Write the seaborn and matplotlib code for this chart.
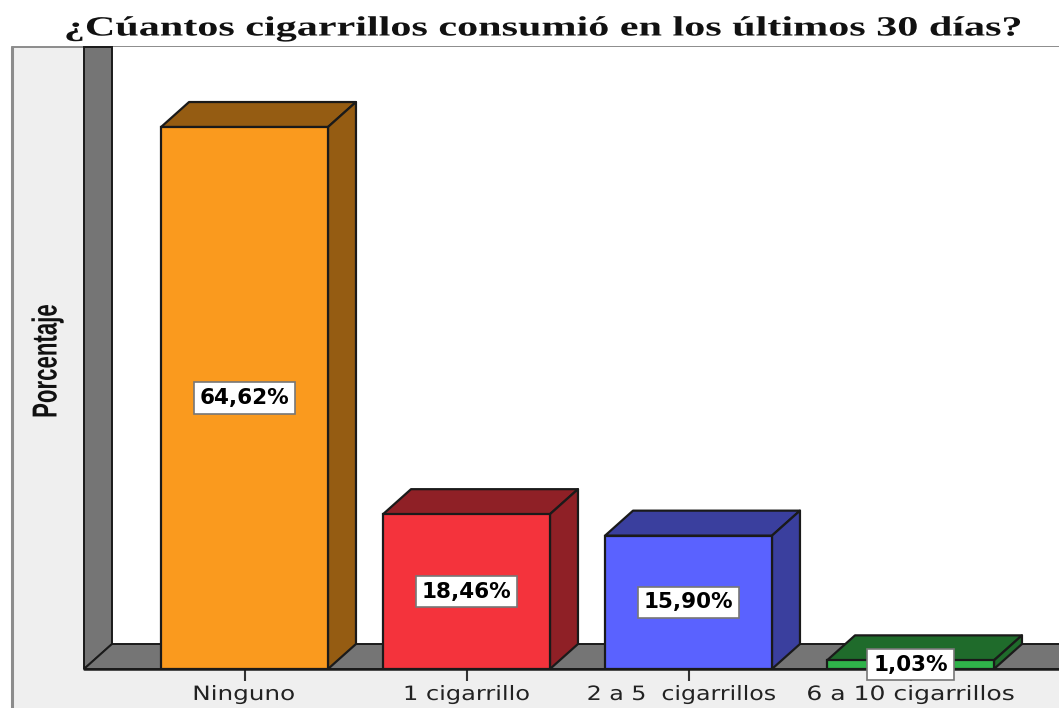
import matplotlib
matplotlib.use('Agg')
import matplotlib.pyplot as plt
from matplotlib.patches import Polygon, Rectangle
from matplotlib.patheffects import AbstractPathEffect
from matplotlib.transforms import Affine2D
import pandas as pd
import seaborn as sns

categories = ['Ninguno', '1 cigarrillo', '2 a 5  cigarrillos', '6 a 10 cigarrillos']
percentages = [64.62, 18.46, 15.90, 1.03]
value_labels = ['64,62%', '18,46%', '15,90%', '1,03%']
front_colors = ['#FA9A1E', '#F4333C', '#5A62FF', '#2FB34A']
side_colors = ['#955C12', '#8F2026', '#3A3F9E', '#1F6B2B']

W, H = 1059, 708
WALL = '#757575'
PANEL = '#EFEFEF'
EDGE = '#1a1a1a'


# the source image was stretched sideways, so the text needs it too
class Stretch(AbstractPathEffect):
    def __init__(self, sx, sy, cx, cy, shift=0):
        super().__init__()
        self.sx, self.sy, self.cx, self.cy, self.shift = sx, sy, cx, cy, shift

    def draw_path(self, renderer, gc, tpath, affine, rgbFace=None):
        t = Affine2D().translate(-self.cx, -self.cy).scale(self.sx, self.sy)
        t = t.translate(self.cx + self.shift, self.cy)
        renderer.draw_path(gc, tpath, affine + t, rgbFace)


sns.set_theme(style='white')
plt.rcParams['font.family'] = ['DejaVu Sans']

df = pd.DataFrame({'cat': categories, 'pct': percentages})

fig = plt.figure(figsize=(W / 100, H / 100), dpi=100, facecolor='white')

# grey panel behind the plot, open at the right side
fig.add_artist(Rectangle((12 / W, 0), (W - 12) / W, 1 - 47 / H, transform=fig.transFigure,
                         facecolor=PANEL, edgecolor='none', zorder=-5))
fig.add_artist(plt.Line2D([12 / W, 12 / W], [0, 1 - 47 / H], color='#8c8c8c', lw=2.2, zorder=-4))
fig.add_artist(plt.Line2D([12 / W, 1], [1 - 46.5 / H, 1 - 46.5 / H], color='#8c8c8c', lw=1.4, zorder=-4))

ax = fig.add_axes([84 / W, 1 - 669 / H, (W - 84) / W, (669 - 47) / H])
sns.barplot(data=df, x='cat', y='pct', hue='cat', palette=front_colors, legend=False,
            width=0.752, saturation=1, edgecolor=EDGE, linewidth=1.6, ax=ax, zorder=4)

# 222 px per category, 8.387 px per percent
xmin, xmax = (84 - 244.5) / 222, (W - 244.5) / 222
ymax = (669 - 47) / 8.387
ax.set_xlim(xmin, xmax)
ax.set_ylim(0, ymax)
dx, dy = 28 / 222, 25 / 8.387

# wall and floor of the 3D box
ax.add_patch(Polygon([(xmin, 0), (xmin + dx, dy), (xmin + dx, ymax), (xmin, ymax)],
                     facecolor=WALL, edgecolor=EDGE, lw=1.4, zorder=1, clip_on=False))
ax.add_patch(Polygon([(xmin, 0), (xmax + 1, 0), (xmax + 1, dy), (xmin + dx, dy)],
                     facecolor=WALL, edgecolor=EDGE, lw=1.4, zorder=2))
ax.plot([xmin, xmax], [0, 0], color=EDGE, lw=1.8, zorder=3, clip_on=False)

bars = [p for c in ax.containers for p in c]
for bar, side, label in zip(bars, side_colors, value_labels):
    x0 = bar.get_x()
    x1 = x0 + bar.get_width()
    top = bar.get_height()
    ax.add_patch(Polygon([(x0, top), (x1, top), (x1 + dx, top + dy), (x0 + dx, top + dy)],
                         facecolor=side, edgecolor=EDGE, lw=1.6, zorder=3.5, joinstyle='round'))
    ax.add_patch(Polygon([(x1, 0), (x1 + dx, dy), (x1 + dx, top + dy), (x1, top)],
                         facecolor=side, edgecolor=EDGE, lw=1.6, zorder=3.5, joinstyle='round'))
    ax.text((x0 + x1) / 2, top / 2, label, ha='center', va='center', fontsize=15.5,
            fontweight='bold', color='black', zorder=6, clip_on=False,
            bbox=dict(boxstyle='square,pad=0.27', facecolor='white', edgecolor='#777777', lw=1.2))

for s in ax.spines.values():
    s.set_visible(False)
ax.set_yticks([])
ax.set_xlabel('')
ax.set_ylabel('')
ax.tick_params(axis='x', length=8.5, width=1.5, color='#333333', bottom=True, pad=3,
               labelsize=14.2, labelcolor='#222222')
ax.patch.set_facecolor('white')

tick_stretch = [1.25, 1.22, 1.2, 1.27]
tick_shift = [-1, 0, -7, 0]
for lab, tick_x, sx, shift in zip(ax.get_xticklabels(), ax.get_xticks(), tick_stretch, tick_shift):
    px = ax.transData.transform((tick_x, 0))[0]
    lab.set_path_effects([Stretch(sx, 1, px, 0, shift)])

fig.text(47 / W, 1 - 361 / H, 'Porcentaje', rotation=90, ha='center', va='center',
         fontsize=25, fontweight='bold', family='Liberation Sans', color='#111111',
         path_effects=[Stretch(1, 0.64, 47, H - 361)])
fig.text(543 / W, 1 - 29 / H, '¿Cúantos cigarrillos consumió en los últimos 30 días?',
         ha='center', va='center', fontsize=20, fontweight='bold', family='Liberation Serif',
         color='#111111', path_effects=[Stretch(1.517, 1, 543, H - 29)])

fig.savefig('out.png', dpi=100)
